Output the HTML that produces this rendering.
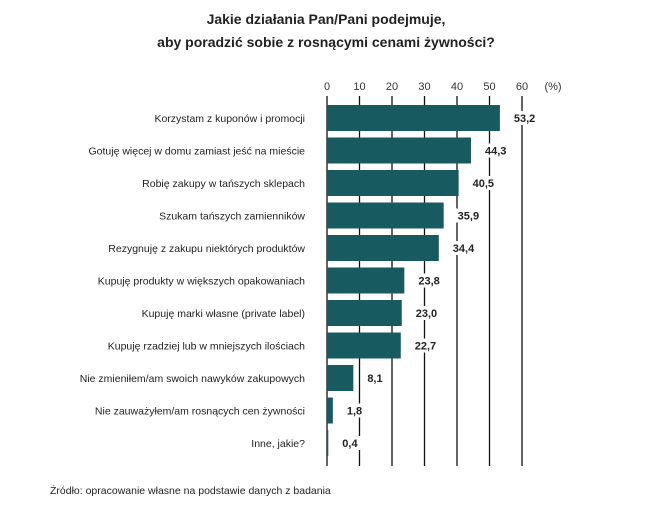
<!DOCTYPE html>
<html><head><meta charset="utf-8"><style>
body{margin:0;background:#fff;width:661px;height:507px;overflow:hidden;font-family:"Liberation Sans",sans-serif;}
</style></head><body>
<svg width="661" height="507" xmlns="http://www.w3.org/2000/svg">
<text x="326" y="24" text-anchor="middle" font-size="14" font-weight="bold" fill="#222">Jakie działania Pan/Pani podejmuje,</text>
<text x="326" y="47" text-anchor="middle" font-size="14" font-weight="bold" fill="#222">aby poradzić sobie z rosnącymi cenami żywności?</text>
<g id="grid"></g><g id="bars"></g>
<text x="50" y="494" font-size="10.5" fill="#222">Źródło: opracowanie własne na podstawie danych z badania</text>
</svg>
<script>
const categories=["Korzystam z kuponów i promocji","Gotuję więcej w domu zamiast jeść na mieście","Robię zakupy w tańszych sklepach","Szukam tańszych zamienników","Rezygnuję z zakupu niektórych produktów","Kupuję produkty w większych opakowaniach","Kupuję marki własne (private label)","Kupuję rzadziej lub w mniejszych ilościach","Nie zmieniłem/am swoich nawyków zakupowych","Nie zauważyłem/am rosnących cen żywności","Inne, jakie?"];
const values=[53.2,44.3,40.5,35.9,34.4,23.8,23.0,22.7,8.1,1.8,0.4];
const ticks=[0,10,20,30,40,50,60];
const NS="http://www.w3.org/2000/svg";
const x=v=>327+v*3.25;
const yTop=i=>105+i*32.5;
const g=document.getElementById('grid'),b=document.getElementById('bars');
function mk(t,a,p){const e=document.createElementNS(NS,t);for(const k in a)e.setAttribute(k,a[k]);p.appendChild(e);return e;}
ticks.forEach(t=>{
 const l=mk('line',{x1:x(t),x2:x(t),y1:96,y2:466,stroke:'#111','stroke-width':1.3},g);
 
 
 const tx=mk('text',{x:x(t),y:90,'text-anchor':'middle','font-size':11,fill:'#333'},g);tx.textContent=t;
 
 
});
const pc=mk('text',{x:553,y:90,'text-anchor':'middle','font-size':11,fill:'#333'},g);pc.textContent='(%)';


values.forEach((v,i)=>{
 const y=yTop(i);
 const r=mk('rect',{x:x(0),y:y,width:x(v)-x(0),height:26,fill:'#175a60'},b);
 
 
 const lbl=v.toFixed(1).replace('.',',');
 const lx=x(v)+14;
 const bg=mk('rect',{x:lx-2,y:y+6,width:lbl.length*6.5+4,height:14,fill:'#fff'},b);
 
 
 const t=mk('text',{x:lx,y:y+17,'font-size':11,'font-weight':'bold',fill:'#222'},b);t.textContent=lbl;
 
 
 const c=mk('text',{x:305,y:y+17,'text-anchor':'end','font-size':10.5,fill:'#222'},b);c.textContent=categories[i];
 
 
});
</script>
</body></html>
